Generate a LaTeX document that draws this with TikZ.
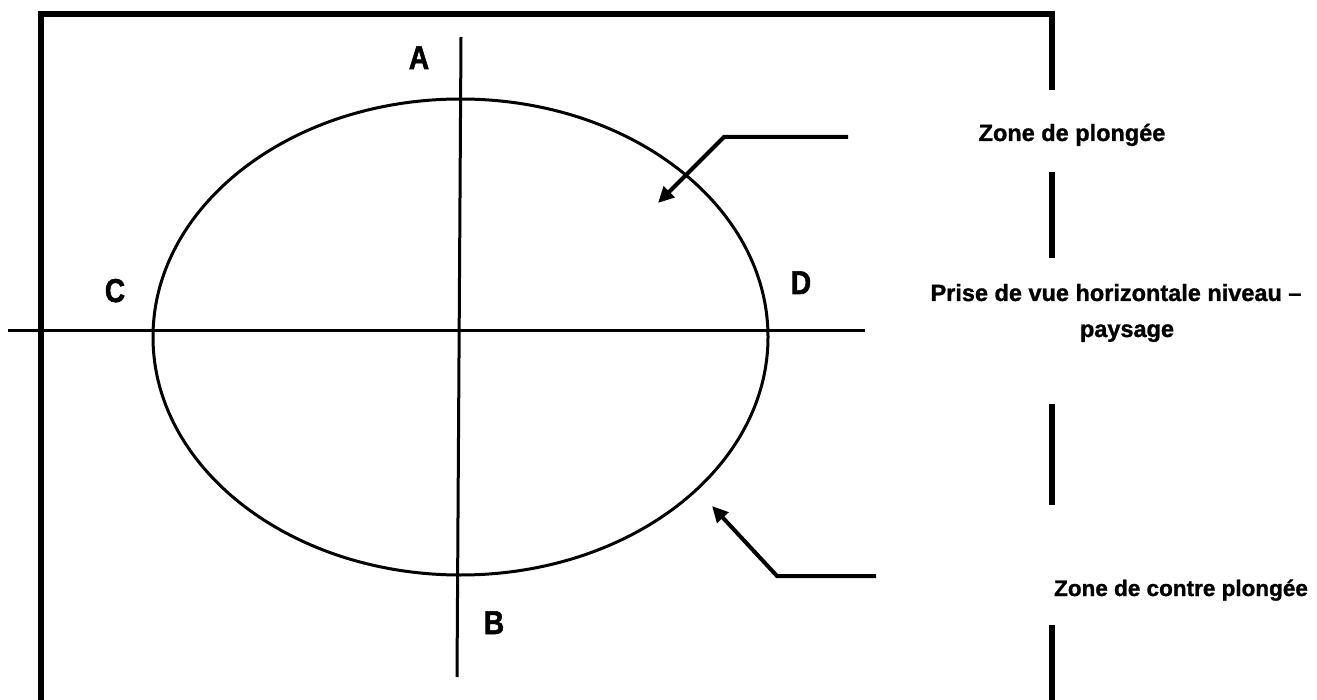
\documentclass[tikz,border=0pt]{standalone}
\usepackage{fontspec}
\setmainfont{Liberation Sans}[BoldFeatures={FakeBold=1.2}]
\newfontfamily\lblfont{Liberation Sans Bold}[FakeStretch=0.85,FakeBold=1.6]
\usetikzlibrary{arrows.meta}
\begin{document}
\begin{tikzpicture}[x=1pt,y=-1pt,
  framebar/.style={line width=5.5pt},
  axisline/.style={line width=3pt},
  pointer/.style={line width=4pt,-{Triangle[length=16pt,width=15pt]}},
  axlabel/.style={font=\lblfont\fontsize{33}{33}\selectfont,anchor=base,inner sep=0pt},
  zonetext/.style={font=\bfseries\fontsize{23.5}{28}\selectfont,anchor=base,inner sep=0pt}]
\useasboundingbox (0,0) rectangle (1317,700);
% frame
\coordinate (fl) at (41,700);
\coordinate (ftl) at (41,14);
\coordinate (ftr) at (1052,14);
\coordinate (r1) at (1052,90);
\coordinate (r2a) at (1052,172);
\coordinate (r2b) at (1052,258);
\coordinate (r3a) at (1052,404);
\coordinate (r3b) at (1052,505);
\coordinate (r4a) at (1052,625);
\coordinate (r4b) at (1052,700);
\draw[framebar,line join=miter] (fl) -- (ftl) -- (ftr) -- (r1);
\draw[framebar] (r2a) -- (r2b);
\draw[framebar] (r3a) -- (r3b);
\draw[framebar] (r4a) -- (r4b);
% ellipse and axes
\draw[axisline] (460.5,337) ellipse [x radius=307.5, y radius=238];
\coordinate (vt) at (461,37);
\coordinate (vb) at (457,677);
\coordinate (hl) at (8,331);
\coordinate (hr) at (865,331);
\draw[axisline] (vt) -- (vb);
\draw[axisline] (hl) -- (hr);
% axis labels
\node[axlabel] (A) at (419,69) {A};
\node[axlabel] (B) at (494,634) {B};
\node[axlabel] (C) at (115,302) {C};
\node[axlabel] (D) at (801,294) {D};
% pointers
\coordinate (p1s) at (848,137);
\coordinate (p1k) at (724,137);
\coordinate (p1t) at (658,203);
\draw[pointer] (p1s) -- (p1k) -- (p1t);
\coordinate (p2s) at (876,576);
\coordinate (p2k) at (777,576);
\coordinate (p2t) at (712,506);
\draw[pointer] (p2s) -- (p2k) -- (p2t);
% texts
\node[zonetext] (z1) at (1072,141) {Zone de plongée};
\node[zonetext] (z2) at (1116,301) {Prise de vue horizontale niveau –};
\node[zonetext] (z3) at (1127,337) {paysage};
\node[zonetext,font=\bfseries\fontsize{22.5}{27}\selectfont] (z4) at (1181,596) {Zone de contre plongée};
\end{tikzpicture}
\end{document}
